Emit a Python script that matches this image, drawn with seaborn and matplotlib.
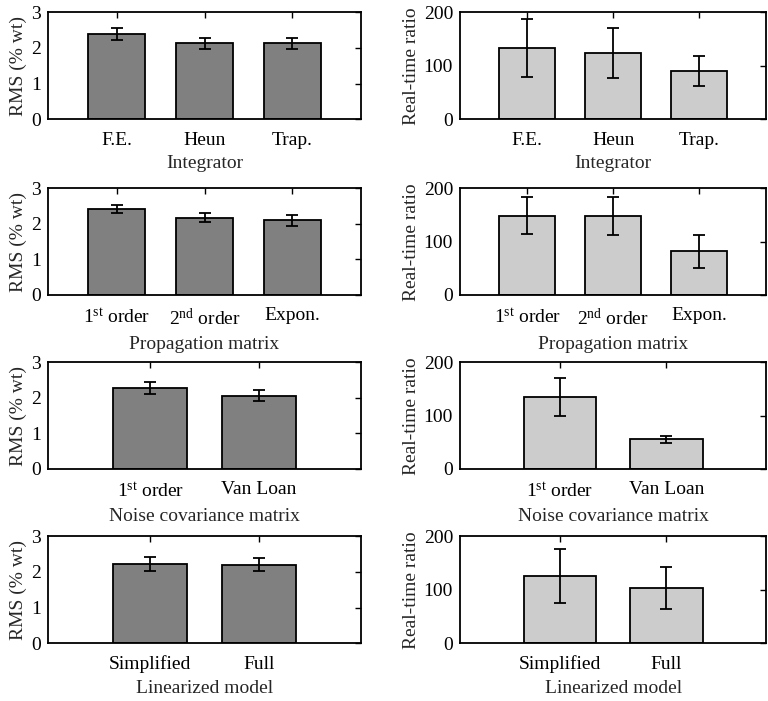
import numpy as np
import pandas as pd
import matplotlib
matplotlib.use("Agg")
import matplotlib.pyplot as plt
import seaborn as sns

sns.set_style("white")
plt.rcParams['font.family'] = ['Liberation Serif', 'DejaVu Serif']
plt.rcParams['mathtext.fontset'] = 'custom'
plt.rcParams['mathtext.rm'] = 'Liberation Serif'
plt.rcParams['mathtext.it'] = 'Liberation Serif:italic'
plt.rcParams['font.size'] = 14

# ---- data ----
integrator_cats = ["F.E.", "Heun", "Trap."]
integrator_rms = [2.39, 2.14, 2.14]
integrator_rms_err = [0.16, 0.155, 0.155]
integrator_rt = [133, 124, 90]
integrator_rt_err = [55, 47, 28]

prop_cats = ["1$^{\\mathrm{st}}$ order", "2$^{\\mathrm{nd}}$ order", "Expon."]
prop_rms = [2.43, 2.17, 2.11]
prop_rms_err = [0.115, 0.125, 0.155]
prop_rt = [149, 148, 82]
prop_rt_err = [35, 35, 31.5]

noise_cats = ["1$^{\\mathrm{st}}$ order", "Van Loan"]
noise_rms = [2.28, 2.06]
noise_rms_err = [0.18, 0.15]
noise_rt = [135, 56]
noise_rt_err = [35, 6.7]

lin_cats = ["Simplified", "Full"]
lin_rms = [2.22, 2.20]
lin_rms_err = [0.2, 0.18]
lin_rt = [126, 103]
lin_rt_err = [51, 40]

row_labels = ["Integrator", "Propagation matrix", "Noise covariance matrix", "Linearized model"]

rows = [
    (integrator_cats, integrator_rms, integrator_rms_err, integrator_rt, integrator_rt_err),
    (prop_cats, prop_rms, prop_rms_err, prop_rt, prop_rt_err),
    (noise_cats, noise_rms, noise_rms_err, noise_rt, noise_rt_err),
    (lin_cats, lin_rms, lin_rms_err, lin_rt, lin_rt_err),
]

fig = plt.figure(figsize=(7.68, 7.01), dpi=100)

bottoms = [0.8302, 0.5792, 0.3310, 0.0827]
height = 0.152
left_pos = (0.0625, 0.4076)
right_pos = (0.599, 0.399)

def draw(ax, cats, vals, errs, color, ylim, yticks, ylabel, xlabel):
    n = len(cats)
    df = pd.DataFrame({"cat": cats, "val": vals})
    width = 0.65 if n == 3 else 0.68
    sns.barplot(data=df, x="cat", y="val", ax=ax, color=color, width=width,
                edgecolor="black", linewidth=1.3, saturation=1, errorbar=None)
    ax.errorbar(np.arange(n), vals, yerr=errs, fmt="none", ecolor="black",
                elinewidth=1.3, capsize=4, capthick=1.3)
    if n == 3:
        ax.set_xlim(-0.78, 2.78)
    else:
        ax.set_xlim(-0.94, 1.94)
    ax.set_ylim(*ylim)
    ax.set_yticks(yticks)
    ax.set_ylabel(ylabel, fontsize=14)
    ax.set_xlabel(xlabel, fontsize=14, labelpad=5)
    ax.tick_params(direction="in", top=True, right=True, length=4, width=1,
                   labelsize=14, colors="black")
    ax.tick_params(axis="x", pad=9)
    ax.tick_params(axis="y", pad=5)
    for s in ax.spines.values():
        s.set_visible(True)
        s.set_linewidth(1.3)
        s.set_color("black")

for i, (cats, rms, rms_err, rt, rt_err) in enumerate(rows):
    axl = fig.add_axes([left_pos[0], bottoms[i], left_pos[1], height])
    draw(axl, cats, rms, rms_err, "#808080", (0, 3), [0, 1, 2, 3], "RMS (% wt)", row_labels[i])
    axl.yaxis.labelpad = 3
    axr = fig.add_axes([right_pos[0], bottoms[i], right_pos[1], height])
    draw(axr, cats, rt, rt_err, "#cccccc", (0, 200), [0, 100, 200], "Real-time ratio", row_labels[i])
    axr.yaxis.labelpad = 3

fig.savefig("out.png", dpi=100)
